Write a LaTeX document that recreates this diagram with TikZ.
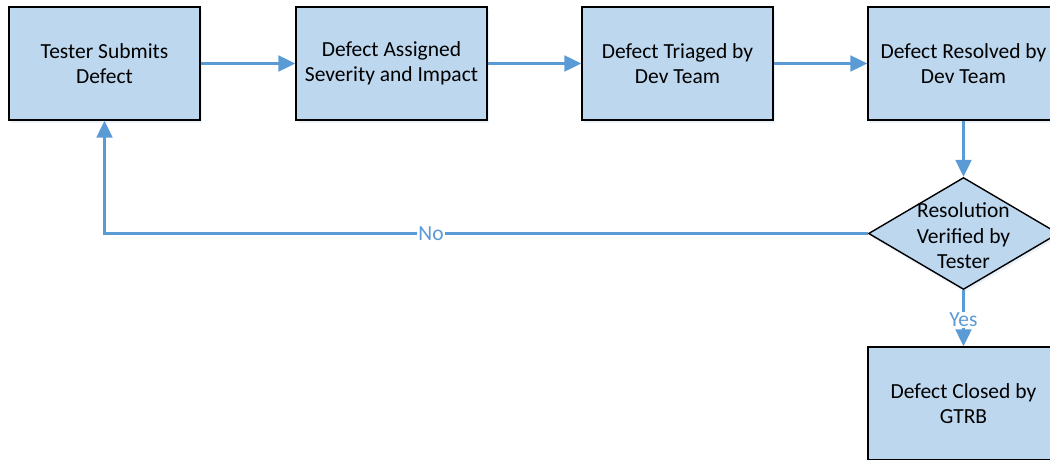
\documentclass[tikz,border=0pt]{standalone}
\usepackage{fontspec}
\setmainfont{Carlito}
\usetikzlibrary{shapes.geometric,arrows.meta,shadows}
\definecolor{boxfill}{HTML}{BDD7EE}
\definecolor{arrowblue}{HTML}{5B9BD5}
\tikzset{
  textfont/.style={font=\fontsize{21.5}{25.5}\selectfont},
  procbox/.style={draw=black, line width=1.4pt, fill=boxfill, minimum width=191pt, minimum height=113pt,
    align=center, textfont, inner sep=0pt,
    drop shadow={shadow xshift=1.5pt, shadow yshift=-3pt, opacity=0.12, fill=arrowblue}},
  decbox/.style={draw=black, line width=1.4pt, fill=boxfill, diamond, minimum width=190pt, minimum height=112pt,
    inner sep=0pt, aspect=1.7,
    drop shadow={shadow xshift=1.5pt, shadow yshift=-3pt, opacity=0.12, fill=arrowblue}},
  flow/.style={draw=arrowblue, line width=2.2pt, -{Triangle[length=17pt,width=16pt]}},
  edgelabel/.style={text=arrowblue, fill=white, inner sep=1pt, textfont},
}
\begin{document}
\begin{tikzpicture}[x=1pt,y=-1pt]
\useasboundingbox (0,0) rectangle (1050,460);
\node[procbox] (submit) at (104.5,63.5) {Tester Submits\\Defect};
\node[procbox] (assign) at (391.5,63.5) {Defect Assigned\\Severity and Impact};
\node[procbox] (triage) at (677.5,63.5) {Defect Triaged by\\Dev Team};
\node[procbox] (resolve) at (963.5,63.5) {Defect Resolved by\\Dev Team};
\node[decbox] (verify) at (963.5,233.5) {};
\node[textfont, align=center] (verifytext) at (963.5,236) {Resolution\\Verified by\\Tester};
\node[procbox] (close) at (963.5,403.5) {Defect Closed by\\GTRB};
\coordinate (corner) at (104.5,233.5);
\draw[flow] (submit) -- (assign);
\draw[flow] (assign) -- (triage);
\draw[flow] (triage) -- (resolve);
\draw[flow] (resolve) -- (verify);
\draw[flow] (verify.west) -- (corner) -- (submit.south);
\draw[flow] (verify.south) -- (close.north);
\node[edgelabel] (nolabel) at (431,234) {No};
\node[edgelabel] (yeslabel) at (963.5,320) {Yes};
\end{tikzpicture}
\end{document}
